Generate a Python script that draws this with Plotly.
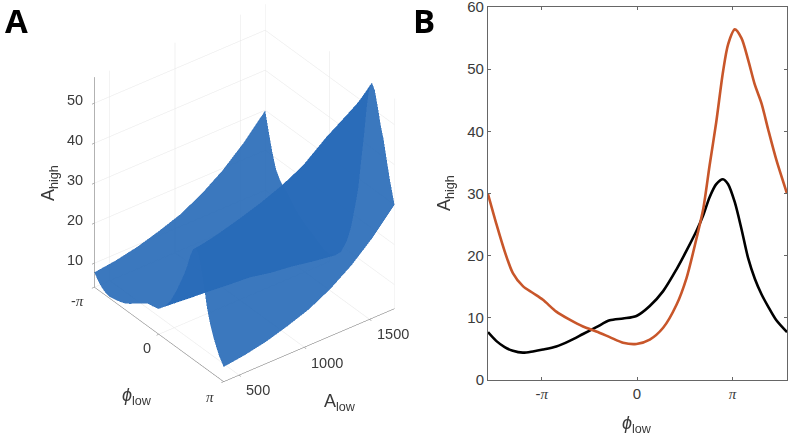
import plotly.graph_objects as go

phi_low = [-4.91, -4.64, -4.36, -4.09, -3.76, -3.43, -3.10, -2.66, -2.22, -1.78, -1.34, -0.90,
           -0.46, -0.02, 0.42, 0.86, 1.30, 1.63, 1.96, 2.18, 2.39, 2.61, 2.83, 3.00,
           3.22, 3.44, 3.66, 3.88, 4.10, 4.32, 4.59, 4.94]
a_low = [382, 546, 710, 873, 1037, 1200, 1364, 1527, 1691]

a_high_black = [7.7, 6.3, 5.3, 4.7, 4.4, 4.6, 4.9, 5.4, 6.3, 7.4, 8.5, 9.6,
                9.9, 10.3, 11.9, 14.3, 17.8, 20.8, 24.0, 26.5, 29.4, 31.5, 32.3, 31.5,
                28.6, 24.3, 19.6, 16.3, 13.8, 11.8, 9.6, 7.7]
a_high_546 = [8.4, 7.1, 6.0, 5.3, 4.9, 5.0, 5.3, 5.7, 6.5, 7.4, 8.4, 9.4,
              9.6, 10.0, 11.4, 13.8, 17.3, 20.6, 24.0, 26.8, 30.0, 32.3, 33.5, 33.0,
              30.4, 26.2, 21.6, 18.0, 15.5, 13.4, 11.1, 8.4]
a_high_710 = [9.5, 8.2, 6.9, 6.0, 5.5, 5.6, 5.8, 6.0, 6.7, 7.5, 8.4, 9.3,
              9.4, 9.8, 11.0, 13.4, 16.8, 20.2, 23.9, 27.1, 30.6, 33.3, 35.0, 34.8,
              32.3, 28.3, 23.8, 20.0, 17.5, 15.2, 12.7, 9.5]
a_high_873 = [11.1, 9.4, 7.9, 6.8, 6.2, 6.2, 6.3, 6.4, 6.9, 7.6, 8.3, 9.1,
              9.2, 9.5, 10.5, 12.9, 16.2, 19.8, 23.8, 27.3, 31.2, 34.4, 36.7, 36.8,
              34.7, 31.0, 26.4, 22.6, 19.9, 17.5, 14.8, 11.1]
a_high_1037 = [13.0, 11.0, 9.2, 7.8, 7.1, 7.0, 6.9, 6.8, 7.2, 7.7, 8.3, 8.9,
               8.9, 9.2, 10.1, 12.3, 15.6, 19.4, 23.6, 27.5, 32.0, 35.8, 38.8, 39.3,
               37.5, 34.0, 29.5, 25.7, 23.0, 20.4, 17.4, 13.0]
a_high_1200 = [15.8, 13.5, 11.2, 9.5, 8.5, 8.2, 7.9, 7.5, 7.6, 7.8, 8.2, 8.4,
               8.1, 8.4, 9.0, 11.2, 14.6, 18.9, 23.4, 27.5, 32.9, 37.5, 41.5, 42.6,
               41.2, 38.2, 33.9, 30.0, 27.2, 24.3, 20.8, 15.8]
a_high_1364 = [19.5, 16.7, 13.8, 11.6, 10.3, 9.8, 9.3, 8.5, 8.2, 8.1, 8.1, 8.1,
               7.6, 7.8, 8.3, 10.4, 13.9, 18.1, 23.2, 27.5, 33.6, 39.0, 44.6, 46.8,
               45.6, 43.0, 39.0, 35.0, 32.2, 29.0, 25.0, 19.5]
a_high_1527 = [24.2, 20.6, 17.0, 14.1, 12.4, 11.6, 10.9, 9.6, 8.9, 8.3, 7.9, 7.4,
               6.7, 6.7, 7.3, 9.3, 12.9, 17.2, 23.0, 27.5, 34.0, 40.2, 46.8, 50.3,
               50.9, 49.0, 45.0, 41.0, 38.0, 34.5, 30.0, 24.2]
a_high_orange = [29.9, 25.2, 20.7, 17.2, 15.1, 14.0, 12.9, 11.0, 9.7, 8.6, 7.8, 6.9,
                 6.0, 5.8, 6.5, 8.4, 12.1, 16.4, 22.8, 27.5, 34.5, 41.5, 49.5, 54.0,
                 56.4, 55.0, 51.5, 47.5, 44.5, 40.3, 35.4, 30.0]

z_ticks = [10, 20, 30, 40, 50]
a_ticks = [500, 1000, 1500]
phi_ends = [-4.91, 4.94]

pi_serif = '<span style="font-family:\'Liberation Serif\';font-style:italic;font-size:15px">\u03c0</span>'
text_color = '#3a3a3a'
FONT = 'Liberation Sans'

fig = go.Figure()

fig.add_trace(go.Surface(
    x=phi_low,
    y=a_low,
    z=[a_high_black, a_high_546, a_high_710, a_high_873, a_high_1037,
       a_high_1200, a_high_1364, a_high_1527, a_high_orange],
    colorscale=[[0, '#286bb8'], [1, '#286bb8']],
    showscale=False,
    opacity=0.91,
    lighting=dict(ambient=1, diffuse=0, specular=0, fresnel=0, roughness=1),
    hoverinfo='skip',
))

fig.add_trace(go.Scatter(x=phi_low, y=a_high_black, mode='lines', xaxis='x', yaxis='y',
                         line=dict(color='#000000', width=2.6, shape='spline', smoothing=0.8),
                         showlegend=False))
fig.add_trace(go.Scatter(x=phi_low, y=a_high_orange, mode='lines', xaxis='x', yaxis='y',
                         line=dict(color='#c8562a', width=2.6, shape='spline', smoothing=0.8),
                         showlegend=False))

axis3d = dict(showbackground=False, showline=True, linecolor='#666666', linewidth=1,
              gridcolor='#e6e6e6', gridwidth=1, zeroline=False, showspikes=False,
              ticks='inside', ticklen=3, tickcolor='#666666', showticklabels=False,
              title=dict(text=''))


# 3d tick labels sit too far off the ticks, so anchor them to the data with a pixel shift
def scene_label(text, x, y, z, xshift, yshift, xanchor='center'):
    return dict(text=text, x=x, y=y, z=z, showarrow=False, xanchor=xanchor, yanchor='middle',
                xshift=xshift, yshift=yshift, font=dict(family=FONT, size=14.5, color=text_color))


scene_labels = [scene_label(str(v), phi_ends[0], a_low[0], v, -9, 3, xanchor='right') for v in z_ticks]
scene_labels += [
    scene_label('-' + pi_serif, phi_ends[0], a_low[0], 4, -17, -14),
    scene_label('0', 0, a_low[0], 4, -12, -14),
    scene_label(pi_serif, phi_ends[1], a_low[0], 4, -14, -15),
    scene_label('500', phi_ends[1], a_ticks[0], 4, 19, -15),
    scene_label('1000', phi_ends[1], a_ticks[1], 4, 23, -16),
    scene_label('1500', phi_ends[1], a_ticks[2], 4, 24, -15),
]

fig.update_layout(
    width=790, height=437,
    margin=dict(l=0, r=0, t=0, b=0, pad=0),
    paper_bgcolor='white', plot_bgcolor='white',
    showlegend=False,
    scene=dict(
        domain=dict(x=[0, 0.62], y=[0, 1]),
        aspectmode='manual',
        aspectratio=dict(x=0.974, y=0.984, z=1.159),
        camera=dict(
            projection=dict(type='orthographic'),
            up=dict(x=0, y=0, z=1),
            center=dict(x=0.050, y=-0.035, z=-0.100),
            eye=dict(x=1.41, y=-1.075, z=1.054),
        ),
        annotations=scene_labels,
        xaxis=dict(axis3d, range=phi_ends, tickmode='array', tickvals=[phi_ends[0], 0, phi_ends[1]]),
        yaxis=dict(axis3d, range=[a_low[0], a_low[-1]], tickmode='array', tickvals=a_ticks),
        zaxis=dict(axis3d, range=[4, 56.5], tickmode='array', tickvals=z_ticks),
    ),
    xaxis=dict(domain=[0.6177, 0.9962], range=phi_ends, tickmode='array', automargin=False,
               tickvals=[-3.1416, 0, 3.1416], ticktext=['-' + pi_serif, '0', pi_serif],
               showline=True, mirror='ticks', linecolor='#666666', linewidth=1,
               ticks='inside', ticklen=3, tickcolor='#666666', showgrid=False, zeroline=False,
               tickfont=dict(family=FONT, size=15, color=text_color)),
    yaxis=dict(domain=[0.1304, 0.984], range=[0, 60], tickmode='array', automargin=False,
               tickvals=[0, 10, 20, 30, 40, 50, 60], ticklabeloverflow='allow',
               showline=True, mirror='ticks', linecolor='#666666', linewidth=1,
               ticks='inside', ticklen=3, tickcolor='#666666', showgrid=False, zeroline=False,
               tickfont=dict(family=FONT, size=15, color=text_color)),
)


def add_text(text, px, py, size=18, angle=0, family=FONT, color=text_color):
    fig.add_annotation(text=text, x=px / 790, y=1 - py / 437, xref='paper', yref='paper',
                       showarrow=False, textangle=angle, xanchor='center', yanchor='middle',
                       font=dict(family=family, size=size, color=color))


add_text('<b>A</b>', 16, 21, size=33, family='Open Sans', color='#000000')
add_text('<b>B</b>', 424, 21, size=33, family='Open Sans', color='#000000')
add_text('A<sub>high</sub>', 49, 183, angle=-90)
add_text('<i>\u03d5</i><sub>low</sub>', 137, 396)
add_text('A<sub>low</sub>', 340, 402)
add_text('A<sub>high</sub>', 445, 193, angle=-90)
add_text('<i>\u03d5</i><sub>low</sub>', 637, 424)

# page default margin would push the figure out of the window
fig.write_html("out.html", config={'displayModeBar': False},
               post_script="document.body.style.margin = '0';")
